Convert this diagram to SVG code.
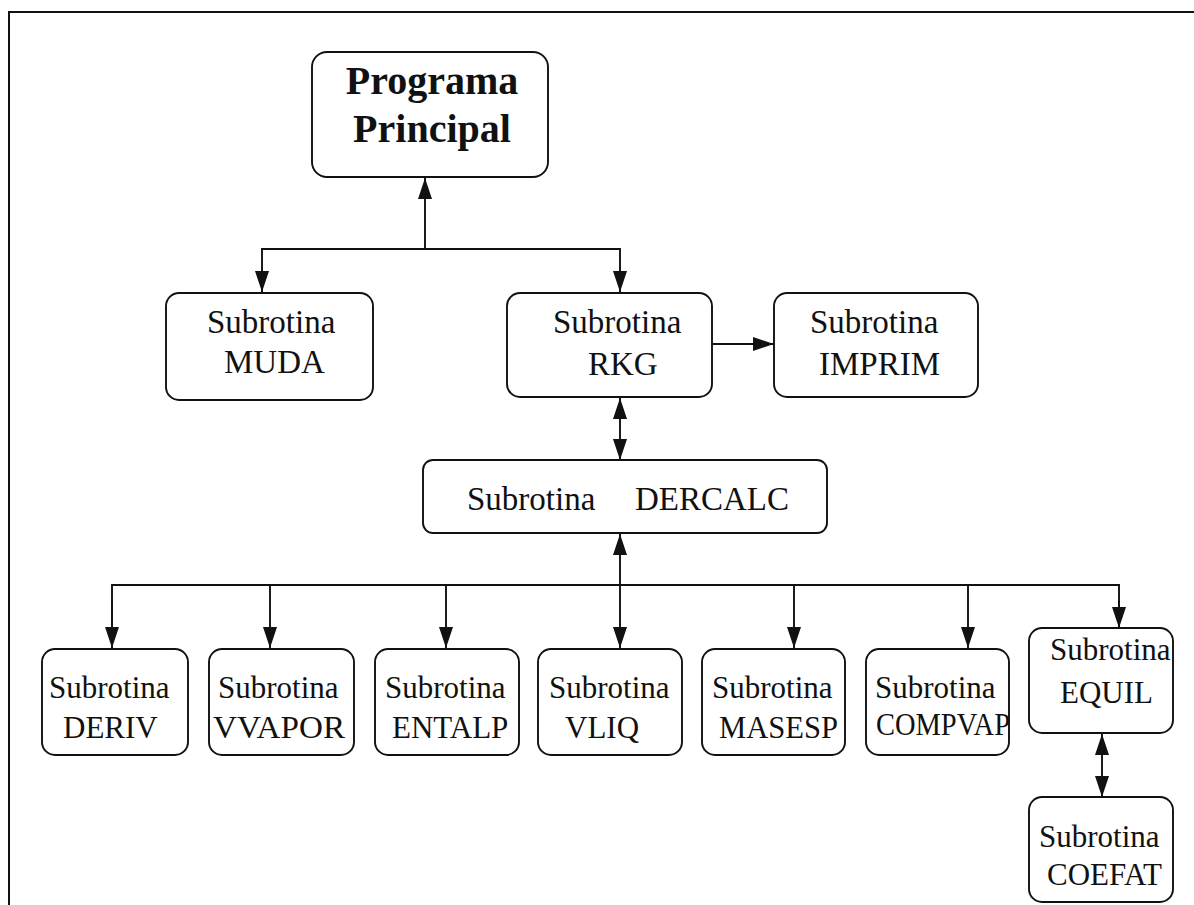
<svg xmlns="http://www.w3.org/2000/svg" width="1194" height="905" viewBox="0 0 1194 905">
<style>
.box{fill:#fff;stroke:#111;stroke-width:1.9}
.t{font-family:"Liberation Serif","Times New Roman",serif;font-size:33px;fill:#111}
.s{font-family:"Liberation Serif","Times New Roman",serif;font-size:31px;fill:#111}
.b{font-family:"Liberation Serif","Times New Roman",serif;font-size:40px;font-weight:bold;fill:#111}
.c{fill:none;stroke:#111;stroke-width:1.9}
</style>
<defs>
<marker id="ah" markerUnits="userSpaceOnUse" markerWidth="21" markerHeight="14" refX="21" refY="7" orient="auto-start-reverse">
<path d="M0,0 L21,7 L0,14 z" fill="#111"/>
</marker>
</defs>
<rect width="1194" height="905" fill="#fff"/>
<path d="M9,905 L9,12 L1194,12" fill="none" stroke="#111" stroke-width="2"/>

<g id="connectors">
<line class="c" x1="425" y1="249" x2="425" y2="178" marker-end="url(#ah)"/>
<polyline class="c" points="262,292 262,249 620,249 620,292"/>
<line class="c" x1="262" y1="270" x2="262" y2="292" marker-end="url(#ah)"/>
<line class="c" x1="620" y1="270" x2="620" y2="292" marker-end="url(#ah)"/>
<line class="c" x1="712" y1="344" x2="774" y2="344" marker-end="url(#ah)"/>
<line class="c" x1="620" y1="398" x2="620" y2="460" marker-start="url(#ah)" marker-end="url(#ah)"/>
<line class="c" x1="620" y1="585" x2="620" y2="534" marker-end="url(#ah)"/>
<polyline class="c" points="112,648 112,585 1119,585 1119,628"/>
<line class="c" x1="112" y1="600" x2="112" y2="648" marker-end="url(#ah)"/>
<line class="c" x1="270" y1="585" x2="270" y2="648" marker-end="url(#ah)"/>
<line class="c" x1="446" y1="585" x2="446" y2="648" marker-end="url(#ah)"/>
<line class="c" x1="620" y1="585" x2="620" y2="648" marker-end="url(#ah)"/>
<line class="c" x1="794" y1="585" x2="794" y2="648" marker-end="url(#ah)"/>
<line class="c" x1="968" y1="585" x2="968" y2="648" marker-end="url(#ah)"/>
<line class="c" x1="1119" y1="600" x2="1119" y2="628" marker-end="url(#ah)"/>
<line class="c" x1="1102" y1="734" x2="1102" y2="797" marker-start="url(#ah)" marker-end="url(#ah)"/>
</g>

<g id="principal">
<rect class="box" x="312" y="52" width="236" height="125" rx="15"/>
<text class="b" x="432" y="94" text-anchor="middle">Programa</text>
<text class="b" x="432" y="142" text-anchor="middle">Principal</text>
</g>
<g id="muda">
<rect class="box" x="166" y="293" width="207" height="107" rx="13"/>
<text class="t" x="207" y="333">Subrotina</text>
<text class="t" x="224" y="373">MUDA</text>
</g>
<g id="rkg">
<rect class="box" x="507" y="293" width="205" height="104" rx="13"/>
<text class="t" x="553" y="333">Subrotina</text>
<text class="t" x="588" y="375">RKG</text>
</g>
<g id="imprim">
<rect class="box" x="774" y="293" width="204" height="104" rx="13"/>
<text class="t" x="810" y="333">Subrotina</text>
<text class="t" x="819" y="375">IMPRIM</text>
</g>
<g id="dercalc">
<rect class="box" x="423" y="460" width="404" height="73" rx="10"/>
<text class="t" x="467" y="510">Subrotina</text>
<text class="t" x="635" y="510">DERCALC</text>
</g>
<g id="deriv">
<rect class="box" x="42" y="649" width="146" height="106" rx="13"/>
<text class="s" x="49" y="698">Subrotina</text>
<text class="s" x="63" y="738">DERIV</text>
</g>
<g id="vvapor">
<rect class="box" x="209" y="649" width="145" height="106" rx="13"/>
<text class="s" x="218" y="698">Subrotina</text>
<text class="s" x="213" y="738" textLength="132" lengthAdjust="spacingAndGlyphs">VVAPOR</text>
</g>
<g id="entalp">
<rect class="box" x="375" y="649" width="144" height="106" rx="13"/>
<text class="s" x="385" y="698">Subrotina</text>
<text class="s" x="392" y="738">ENTALP</text>
</g>
<g id="vliq">
<rect class="box" x="538" y="649" width="144" height="106" rx="13"/>
<text class="s" x="549" y="698">Subrotina</text>
<text class="s" x="565" y="738">VLIQ</text>
</g>
<g id="masesp">
<rect class="box" x="702" y="649" width="143" height="106" rx="13"/>
<text class="s" x="712" y="698">Subrotina</text>
<text class="s" x="719" y="738" textLength="119" lengthAdjust="spacingAndGlyphs">MASESP</text>
</g>
<g id="compvap">
<rect class="box" x="866" y="649" width="143" height="106" rx="13"/>
<text class="s" x="875" y="698">Subrotina</text>
<text class="s" x="876" y="735" textLength="134" lengthAdjust="spacingAndGlyphs">COMPVAP</text>
</g>
<g id="equil">
<rect class="box" x="1029" y="628" width="144" height="105" rx="13"/>
<text class="s" x="1050" y="660">Subrotina</text>
<text class="s" x="1060" y="703">EQUIL</text>
</g>
<g id="coefat">
<rect class="box" x="1029" y="797" width="144" height="105" rx="13"/>
<text class="s" x="1039" y="847">Subrotina</text>
<text class="s" x="1047" y="885">COEFAT</text>
</g>
</svg>
